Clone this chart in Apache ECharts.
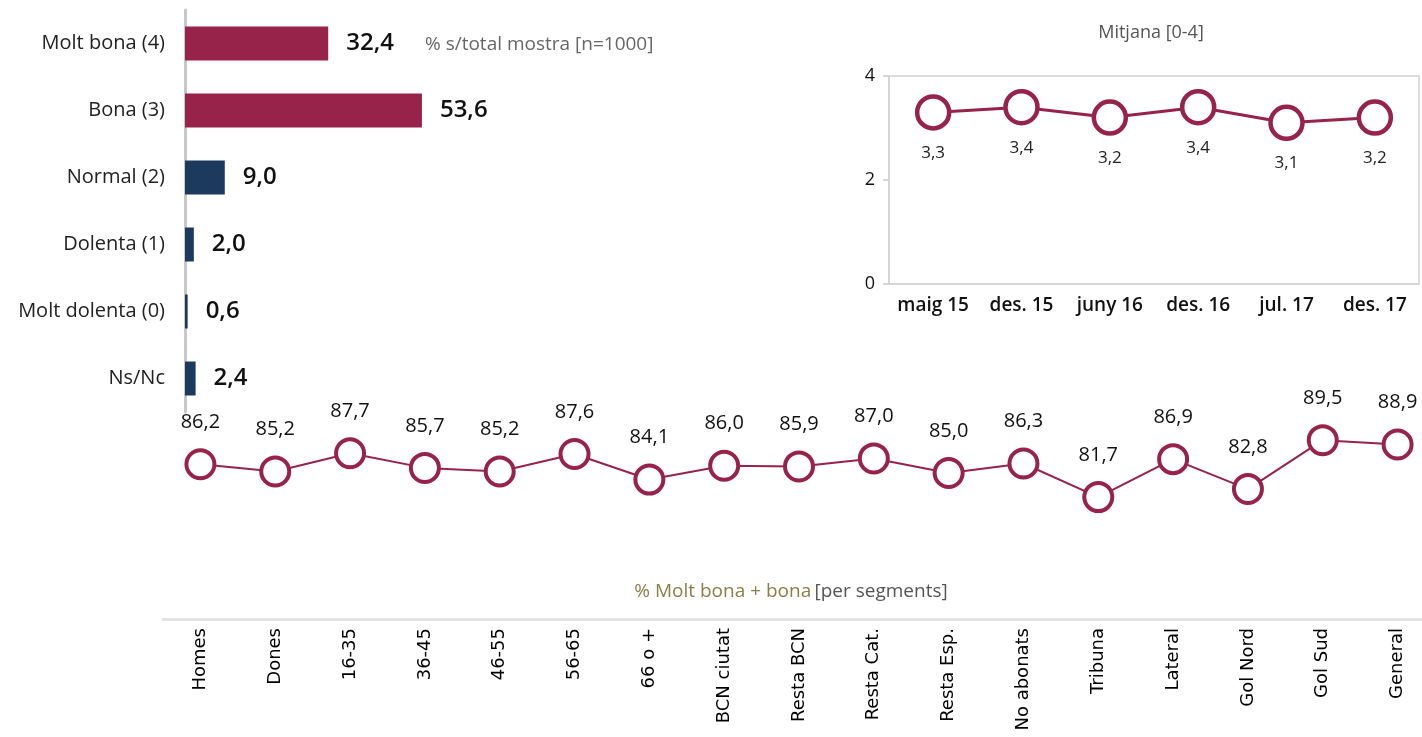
<!DOCTYPE html>
<html>
<head>
<meta charset="utf-8">
<script src="https://cdn.jsdelivr.net/npm/echarts@6/dist/echarts.min.js"></script>
<style>
html,body{margin:0;padding:0;background:#fff;}
#chartmain{width:1422px;height:737px;}
</style>
</head>
<body>
<div id="chartmain"></div>
<script>
// valoració: distribució
var barCats = ['Molt bona (4)', 'Bona (3)', 'Normal (2)', 'Dolenta (1)', 'Molt dolenta (0)', 'Ns/Nc'];
var barValues = [32.4, 53.6, 9.0, 2.0, 0.6, 2.4];
// mitjana per onades
var trendCats = ['maig 15', 'des. 15', 'juny 16', 'des. 16', 'jul. 17', 'des. 17'];
var trendValues = [3.3, 3.4, 3.2, 3.4, 3.1, 3.2];
// % molt bona + bona per segments
var segCats = ['Homes', 'Dones', '16-35', '36-45', '46-55', '56-65', '66 o +', 'BCN ciutat', 'Resta BCN',
	'Resta Cat.', 'Resta Esp.', 'No abonats', 'Tribuna', 'Lateral', 'Gol Nord', 'Gol Sud', 'General'];
var segValues = [86.2, 85.2, 87.7, 85.7, 85.2, 87.6, 84.1, 86.0, 85.9, 87.0, 85.0, 86.3, 81.7, 86.9, 82.8, 89.5, 88.9];

var red = '#98234a';
var blue = '#1c3a5e';
var font = 'Open Sans';

function comma(p){
	return p.value.toFixed(1).replace('.', ',');
}

var myChart = echarts.init(document.getElementById('chartmain'));
var option = {
	animation: false,
	textStyle: {fontFamily: font},
	graphic: [
		{
			type: 'text', x: 425, y: 45,
			style: {text: '% s/total mostra [n=1000]', font: '19px "Open Sans"', fill: '#666', verticalAlign: 'middle'}
		},
		{
			type: 'text', x: 1151, y: 33,
			style: {text: 'Mitjana [0-4]', font: '18px "Open Sans"', fill: '#555', align: 'center', verticalAlign: 'middle'}
		},
		{
			type: 'text', x: 791, y: 592,
			style: {
				text: '{a|% Molt bona + bona} {b|[per segments]}',
				align: 'center', verticalAlign: 'middle',
				rich: {
					a: {fontFamily: font, fontSize: 19, fill: '#8c7e46', color: '#8c7e46'},
					b: {fontFamily: font, fontSize: 19, fill: '#555', color: '#555'}
				}
			}
		}
	],
	grid: [
		{left: 185, top: 10, width: 442, height: 402},
		{left: 889, top: 76, width: 530, height: 208, show: true, borderColor: '#dcdcdc', borderWidth: 2, outerBoundsMode: 'none'},
		{left: 163, top: 400, width: 1272, height: 219, outerBoundsMode: 'none'}
	],
	xAxis: [
		{gridIndex: 0, type: 'value', min: 0, max: 100, show: false},
		{
			gridIndex: 1, type: 'category', data: trendCats,
			axisLine: {lineStyle: {color: '#d6d6d6', width: 2}},
			axisTick: {show: false},
			axisLabel: {interval: 0, hideOverlap: false, fontSize: 19, fontWeight: 600, color: '#111', margin: 12}
		},
		{
			gridIndex: 2, type: 'category', data: segCats,
			axisLine: {lineStyle: {color: '#e3e3e3', width: 3}},
			axisTick: {show: false},
			axisLabel: {interval: 0, rotate: 90, fontSize: 18, fontFamily: 'DejaVu Sans', color: '#000', margin: 9}
		}
	],
	yAxis: [
		{
			gridIndex: 0, type: 'category', data: barCats, inverse: true,
			axisLine: {lineStyle: {color: '#c8c8c8', width: 3}},
			axisTick: {show: false},
			axisLabel: {fontSize: 20, color: '#222', margin: 20}
		},
		{
			gridIndex: 1, type: 'value', min: 0, max: 4, interval: 2,
			axisLine: {show: true, lineStyle: {color: '#d6d6d6', width: 2}},
			axisTick: {show: true, length: 6, lineStyle: {color: '#d6d6d6', width: 2}},
			splitLine: {show: false},
			axisLabel: {fontSize: 18, color: '#111', margin: 14}
		},
		{gridIndex: 2, type: 'value', min: 65, max: 95, show: false}
	],
	series: [
		{
			type: 'bar', xAxisIndex: 0, yAxisIndex: 0,
			data: barValues, barWidth: 34,
			itemStyle: {
				color: function(p){ return p.dataIndex < 2 ? red : blue; }
			},
			label: {
				show: true, position: 'right', distance: 18,
				fontSize: 24, fontWeight: 600, color: '#111', formatter: comma
			}
		},
		{
			type: 'line', xAxisIndex: 1, yAxisIndex: 1,
			data: trendValues,
			symbol: 'circle', symbolSize: 32,
			itemStyle: {color: '#fff', borderColor: red, borderWidth: 4.5},
			lineStyle: {color: red, width: 3},
			label: {show: true, position: 'bottom', distance: 14, fontSize: 17, color: '#222', formatter: comma}
		},
		{
			type: 'line', xAxisIndex: 2, yAxisIndex: 2,
			data: segValues,
			symbol: 'circle', symbolSize: 28,
			itemStyle: {color: '#fff', borderColor: red, borderWidth: 4},
			lineStyle: {color: red, width: 2},
			label: {show: true, position: 'top', distance: 16, fontSize: 20, color: '#111', formatter: comma}
		}
	]
};
myChart.setOption(option);
</script>
</body>
</html>
